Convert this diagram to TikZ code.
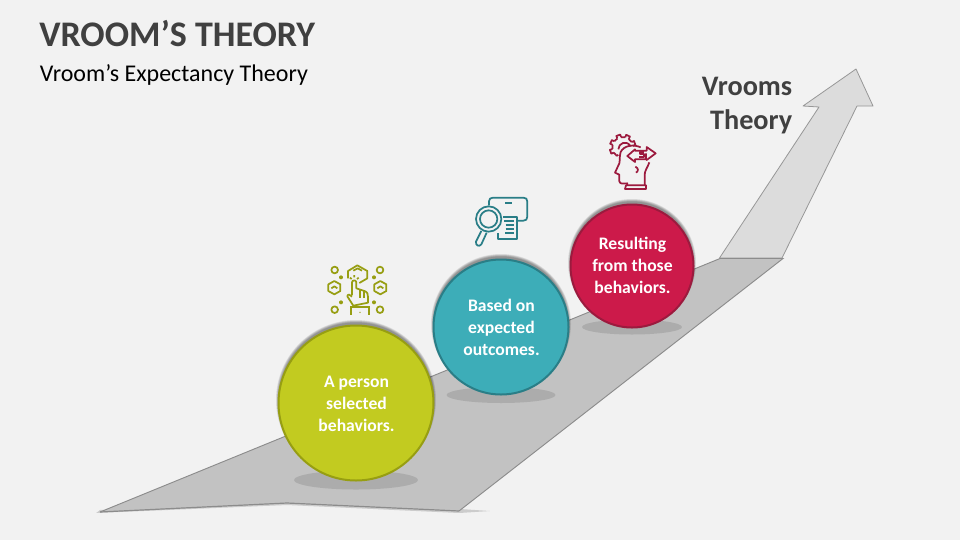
\documentclass[tikz,border=0pt]{standalone}
\usepackage{fontspec}
\setmainfont{Carlito}
\definecolor{bgc}{HTML}{F2F2F2}
\definecolor{ink}{HTML}{404040}
\definecolor{roadc}{HTML}{C2C2C2}
\definecolor{arrowc}{HTML}{DCDCDC}
\definecolor{edgec}{HTML}{8C8C8C}
\definecolor{limec}{HTML}{C2CB20}
\definecolor{limed}{HTML}{979E12}
\definecolor{tealc}{HTML}{3DADB8}
\definecolor{teald}{HTML}{2A7E87}
\definecolor{redc}{HTML}{CC1A4A}
\definecolor{redd}{HTML}{9C1A3E}
\tikzset{
  ball/.style={line width=1.5pt},
  balltext/.style={text=white,font=\fontsize{13.2}{16.4}\selectfont\bfseries,align=center},
  foot/.style={fill=black,fill opacity=0.11,draw=none},
  limeicon/.style={draw=limed,line width=1.3pt,fill=none,line join=round},
  tealicon/.style={draw=teald,line width=1.3pt,fill=none,line join=round},
  redicon/.style={draw=redd,line width=1.3pt,fill=none,line join=round},
}
\newcommand{\halo}[3]{%
  \foreach \k in {1,...,6}{
    \fill[black,opacity=0.08] (#1,#2-3) circle ({#3-1+\k*0.5});
  }}
\begin{document}
\begin{tikzpicture}[x=0.75pt,y=-0.75pt]
\useasboundingbox (0,0) rectangle (960,540);
\fill[bgc] (0,0) rectangle (960,540);
% titles
\node[anchor=west,inner sep=0pt,text=ink,font=\fontsize{27}{32}\selectfont\bfseries] (title) at (39,34) {VROOM’S THEORY};
\node[anchor=west,inner sep=0pt,text=black,font=\fontsize{18}{22}\selectfont] (subtitle) at (39.5,75) {Vroom’s Expectancy Theory};
\node[anchor=east,inner sep=0pt,text=ink,align=right,font=\fontsize{21.2}{25.5}\selectfont\bfseries] (vt) at (792.5,106) {Vrooms\\Theory};
% arrow
\draw[fill=arrowc,draw=edgec!90,line width=0.6pt,line join=round]
  (719.5,258) -- (819,107) -- (803,106) -- (856,69) -- (873,106) -- (857,106) -- (782,258) -- cycle;
% road shadow
\foreach \k in {1,...,5}{
  \fill[black,opacity=0.03] (96,513) -- (287,505) -- (459,513) -- (490,511) -- (460,509) -- (287,501) -- (100,510) -- cycle;
}
% road
\fill[roadc] (100,512) -- (720,258.5) -- (783,258.5) -- (459,511) -- (287,503) -- cycle;
\draw[edgec,line width=0.7pt] (100,512) -- (720,258.5) -- (783,258.5) -- (459,511);
\draw[black!45,line width=0.9pt] (100,512) -- (287,503) -- (459,511);
% feet
\fill[foot] (356,480) ellipse (62 and 9.5);
\fill[foot] (501,395) ellipse (54.5 and 8);
\fill[foot] (632,327) ellipse (50 and 7.5);
% balls
\halo{501}{327}{68}
\fill[ball,draw=teald,fill=tealc] (501,327) circle (67.5);
\node[balltext] (b) at (501.5,327.5) {Based on\\expected\\outcomes.};
\halo{632}{266}{62}
\fill[ball,draw=redd,fill=redc] (632,266) circle (61.5);
\node[balltext] (c) at (632.5,265.5) {Resulting\\from those\\behaviors.};
\halo{356}{403}{78}
\fill[ball,draw=limed,fill=limec] (356,403) circle (77.5);
\node[balltext] (a) at (356.5,404) {A person\\selected\\behaviors.};
% lime icon (zoom coordinates)
\begin{scope}[shift={(320,255)},x=0.25pt,y=-0.25pt]
  \draw[limeicon] (44,45) circle (10) (180,45) circle (10) (44,164) circle (10) (180,164) circle (10);
  \fill[limed] (63,67) circle (6) (162,67) circle (6) (63,142) circle (6) (162,142) circle (6);
  \draw[limeicon] (84,70) -- (84,48) -- (112,31) -- (142,48) -- (142,70) -- (118,84);
  \draw[limeicon] (100,47) -- (113,40) -- (126,47);
  \draw[limeicon] (43,78) -- (61,88) -- (61,108) -- (43,118) -- (25,108) -- (25,88) -- cycle;
  \draw[limeicon] (34,100) -- (43,94) -- (52,100);
  \draw[limeicon] (181,78) -- (199,88) -- (199,108) -- (181,118) -- (163,108) -- (163,88) -- cycle;
  \draw[limeicon] (172,100) -- (181,94) -- (190,100);
  \draw[limeicon] (96,120) -- (96,82) .. controls (97,74) and (108,74) .. (109,82) -- (109,100) -- (133,108) .. controls (143,111) and (144,118) .. (144,126) -- (144,143) -- (100,152) -- (82,124) .. controls (82,116) and (92,118) .. (96,125);
  \draw[limeicon] (120,104) -- (120,128) (131,108) -- (131,128);
  \draw[limeicon] (94,155) -- (94,180) (146,155) -- (146,180) (90,155) -- (150,155);
  \fill[limed] (120,172) circle (2);
  \draw[limeicon] (90,68) -- (95,72) (103,60) -- (103,67) (116,68) -- (111,72);
\end{scope}
% teal icon
\begin{scope}[shift={(465,190)},x=0.25pt,y=-0.25pt]
  \draw[tealicon] (72,46) -- (72,34) .. controls (72,27) and (76,23) .. (84,23) -- (175,23) .. controls (183,23) and (187,27) .. (187,35) -- (187,80) .. controls (187,88) and (183,92) .. (175,92) -- (158,92);
  \draw[tealicon] (120,40) -- (140,40);
  \draw[tealicon] (115,80) -- (157,80) -- (157,146) -- (98,146) -- (98,128);
  \draw[tealicon] (118,92) -- (146,92) (122,104) -- (146,104) (122,116) -- (146,116) (120,128) -- (146,128);
  \draw[tealicon] (71,87) circle (38);
  \draw[tealicon] (71,87) circle (26);
  \draw[tealicon] (49,123) -- (33,155) .. controls (31,166) and (42,172) .. (49,163) -- (65,128);
\end{scope}
% red icon
\begin{scope}[shift={(600,128)},x=0.25pt,y=-0.25pt]
  \begin{scope}[shift={(68,58)}]
    \foreach \t [evaluate=\t as \v using {-(\t+11)}, evaluate=\t as \pa using {-(\t-9)}, evaluate=\t as \pb using {-(\t+9)}, evaluate=\t as \pc using {-(\t-11)}] in {20,65,110,155,200}{
      \draw[redicon] (\pc:31) -- (\pa:39) -- (\pb:39) -- (\v:31);
    }
    \foreach \t [evaluate=\t as \u using {-(\t+34)}, evaluate=\t as \v using {-(\t+11)}] in {20,65,110,155}{
      \draw[redicon] (\v:31) -- (\u:31);
    }
    \draw[redicon] (-211:31) -- (-235:31) -- (-240:26);
  \end{scope}
  \draw[redicon] (55,64) .. controls (55,45) and (80,35) .. (92,55);
  \draw[redicon] (122,58) .. controls (100,48) and (72,52) .. (62,72) .. controls (58,85) and (60,98) .. (58,106) -- (45,134) -- (58,140) -- (58,160) .. controls (60,170) and (72,166) .. (82,166) -- (82,172);
  \draw[redicon] (134,172) -- (134,140) .. controls (134,128) and (143,118) .. (148,103);
  \draw[redicon] (78,172) -- (138,172) -- (138,183) -- (75,183) -- cycle;
  \draw[redicon,fill=bgc] (120,68) -- (105,68) -- (105,64) -- (82,84) -- (105,102) -- (105,94) -- (138,94) -- (138,76);
  \draw[redicon] (120,68) -- (140,68) -- (140,57) -- (167,76) -- (140,96) -- (140,94);
  \draw[redicon] (131,71) -- (119,71) -- (119,79) -- (131,79) -- (131,87) -- (117,87);
  \draw[redicon] (106,116) .. controls (116,120) and (116,130) .. (108,134);
\end{scope}
\end{tikzpicture}
\end{document}
